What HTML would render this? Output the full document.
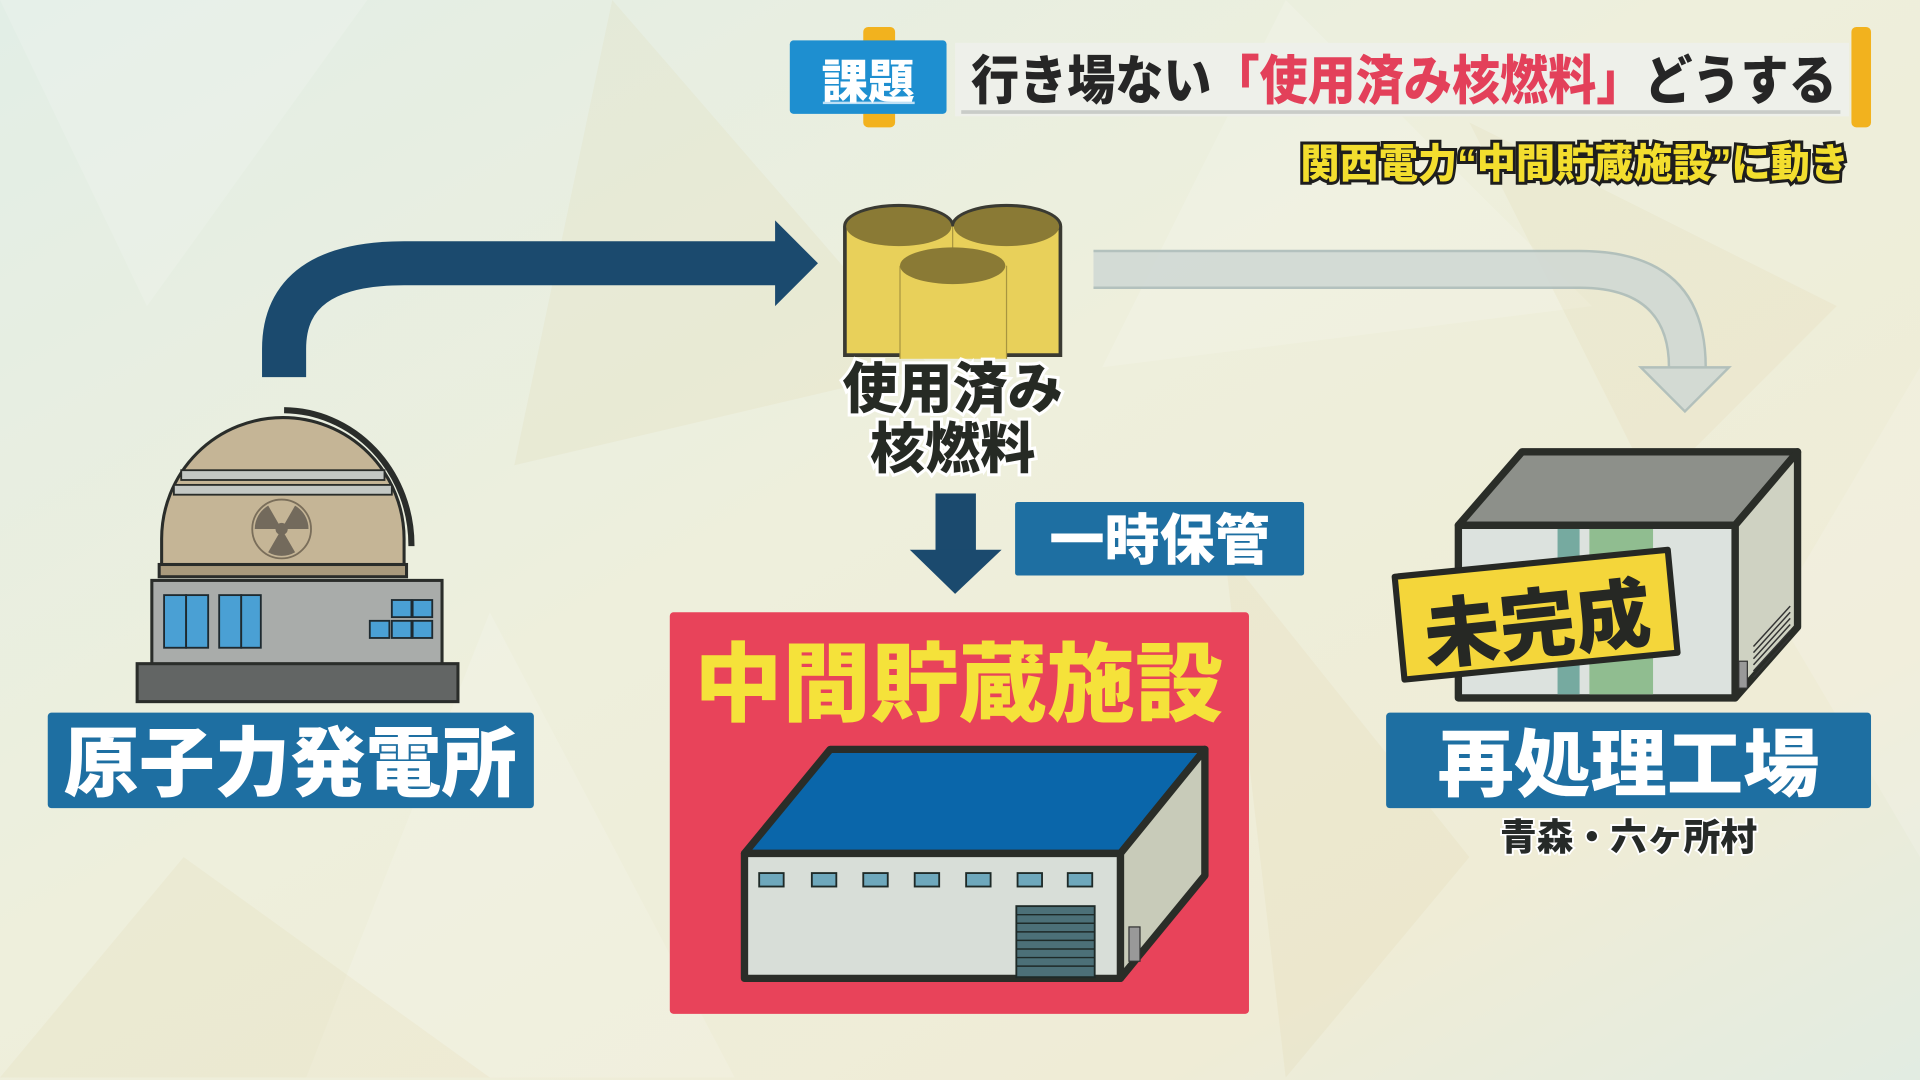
<!DOCTYPE html>
<html><head><meta charset="utf-8"><style>
html,body{margin:0;padding:0;width:1920px;height:1080px;overflow:hidden}
svg{display:block}
text{font-family:"Liberation Sans","Noto Sans CJK JP",sans-serif;font-weight:900}
</style></head><body>
<svg width="1920" height="1080" viewBox="0 0 1568 882" xmlns="http://www.w3.org/2000/svg">
<defs>
<linearGradient id="bg" x1="0" y1="0" x2="1" y2="1">
<stop offset="0" stop-color="#e2eee6"/><stop offset="0.45" stop-color="#eeefdc"/><stop offset="0.8" stop-color="#efecd6"/><stop offset="1" stop-color="#e2ece2"/>
</linearGradient>
</defs>
<rect width="1568" height="882" fill="url(#bg)"/>
<g fill="#ffffff" opacity="0.15">
<polygon points="0,0 300,0 120,250"/><polygon points="400,500 600,880 250,880"/><polygon points="1050,0 1300,250 900,300"/><polygon points="1450,500 1568,700 1568,300"/>
</g>
<g fill="#d9cf9e" opacity="0.14">
<polygon points="500,0 760,300 420,380"/><polygon points="1000,450 1200,700 1050,880"/><polygon points="150,700 400,880 0,880"/><polygon points="1200,100 1500,250 1350,400"/>
</g>

<!-- header -->
<rect x="705" y="22" width="26" height="82" rx="4" fill="#f2b21e"/>
<rect x="1512" y="22" width="16" height="82" rx="4" fill="#f2b21e"/>
<rect x="780" y="35" width="730" height="60" fill="#eef0ea"/>
<rect x="785" y="90" width="718" height="3" fill="#c9ccc8"/>
<rect x="645" y="33" width="128" height="60" rx="3" fill="#1e8fd0"/>
<rect x="672" y="83" width="75" height="2" fill="#bfe0f5"/>
<text x="709" y="80" font-size="38" fill="#ffffff" text-anchor="middle">課題</text>
<text x="793" y="81" font-size="43" fill="#262626" textLength="707" lengthAdjust="spacingAndGlyphs">行き場ない<tspan fill="#e3405a">「使用済み核燃料」</tspan>どうする</text>
<text x="1510" y="145" font-size="33" fill="#f3de2e" stroke="#1e1e1e" stroke-width="5" paint-order="stroke" text-anchor="end" textLength="448" lengthAdjust="spacingAndGlyphs">関西電力“中間貯蔵施設”に動き</text>

<!-- dark curved arrow -->
<path d="M232,308 L232,285 Q232,215 330,215 L640,215" fill="none" stroke="#1b4a6e" stroke-width="36"/>
<polygon points="633,180 668,215 633,250" fill="#1b4a6e"/>

<!-- light arrow -->
<g opacity="0.85">
<path d="M893,220 L1290,220 Q1378,220 1378,300" fill="none" stroke="#cfd8d4" stroke-width="30"/>
<path d="M893,205 L1290,205 Q1393,205 1393,300 M893,235 L1290,235 Q1363,235 1363,300" fill="none" stroke="#a9b9b8" stroke-width="2"/>
<polygon points="1340,300 1412,300 1376,336" fill="#cfd8d4" stroke="#a9b9b8" stroke-width="2"/>
</g>

<!-- canisters -->
<g stroke="#3a3a32" stroke-width="3">
<path d="M690,185 L690,290 L866,290 L866,185 A44,17 0 0 0 778,185 A44,17 0 0 0 690,185 Z" fill="#e8d05a"/>
</g>
<ellipse cx="734" cy="185" rx="43" ry="16" fill="#8a7a35"/>
<ellipse cx="822" cy="185" rx="43" ry="16" fill="#8a7a35"/>
<line x1="778" y1="185" x2="778" y2="210" stroke="#a89540" stroke-width="1"/>
<rect x="735" y="217" width="87" height="76" fill="#e8d05a"/>
<line x1="735" y1="217" x2="735" y2="293" stroke="#a89540" stroke-width="1"/>
<line x1="822" y1="217" x2="822" y2="293" stroke="#a89540" stroke-width="1"/>
<ellipse cx="778" cy="217" rx="43" ry="15" fill="#8a7a35"/>
<text x="778" y="333" font-size="45" fill="#262a24" stroke="#ffffff" stroke-width="5" paint-order="stroke" text-anchor="middle">使用済み</text>
<text x="778" y="382" font-size="45" fill="#262a24" stroke="#ffffff" stroke-width="5" paint-order="stroke" text-anchor="middle">核燃料</text>

<!-- down arrow -->
<rect x="764" y="403" width="33" height="48" fill="#1b4a6e"/>
<polygon points="743,449 818,449 780,485" fill="#1b4a6e"/>
<rect x="829" y="410" width="236" height="60" rx="2" fill="#1e6fa2"/>
<text x="947" y="457" font-size="45" fill="#ffffff" text-anchor="middle">一時保管</text>

<!-- red box -->
<rect x="547" y="500" width="473" height="328" rx="3" fill="#e8435a"/>
<text x="783" y="583" font-size="70" fill="#f5e23a" text-anchor="middle" textLength="432" lengthAdjust="spacingAndGlyphs">中間貯蔵施設</text>
<g stroke="#2a2d28" stroke-linejoin="round">
<polygon points="608,697 678,612 984,612 915,697" fill="#0a66aa" stroke-width="6"/>
<polygon points="915,697 984,612 984,715 915,799" fill="#c8cbb9" stroke-width="6"/>
<rect x="608" y="697" width="307" height="102" fill="#d8ded8" stroke-width="6"/>
</g>
<g fill="#6ea8bc" stroke="#1e2a28" stroke-width="1.5">
<rect x="620" y="713" width="20" height="11"/><rect x="663" y="713" width="20" height="11"/><rect x="705" y="713" width="20" height="11"/><rect x="747" y="713" width="20" height="11"/><rect x="789" y="713" width="20" height="11"/><rect x="831" y="713" width="20" height="11"/><rect x="872" y="713" width="20" height="11"/>
</g>
<rect x="830" y="740" width="64" height="58" fill="#4c7078" stroke="#1e2a28" stroke-width="1.5"/>
<g stroke="#1e2a28" stroke-width="1.2">
<line x1="830" y1="747" x2="894" y2="747"/><line x1="830" y1="754" x2="894" y2="754"/><line x1="830" y1="761" x2="894" y2="761"/><line x1="830" y1="768" x2="894" y2="768"/><line x1="830" y1="775" x2="894" y2="775"/><line x1="830" y1="782" x2="894" y2="782"/><line x1="830" y1="789" x2="894" y2="789"/>
</g>
<rect x="922" y="757" width="9" height="28" fill="#999" stroke="#333" stroke-width="1"/>

<!-- nuclear plant -->
<g stroke="#2a2d2a" stroke-width="2.5">
<path d="M232,335 A105,110 0 0 1 336,445 L336,446" fill="none" stroke-width="5"/>
<path d="M132,462 L132,440 A98,98 0 0 1 330,440 L330,462 Z" fill="#c5b596"/>
<rect x="130" y="461" width="202" height="10" fill="#a99a7c"/>
<rect x="124" y="474" width="237" height="70" fill="#a9acaa"/>
<rect x="112" y="542" width="262" height="31" fill="#626564"/>
</g>
<rect x="148" y="384" width="166" height="8" fill="#c4c8c4" stroke="#2a2d2a" stroke-width="1.5"/>
<rect x="142" y="396" width="178" height="8" fill="#c4c8c4" stroke="#2a2d2a" stroke-width="1.5"/>
<circle cx="230" cy="432" r="24" fill="none" stroke="#7a6e5a" stroke-width="1.5"/>
<g fill="#736a5c">
<circle cx="230" cy="432" r="5"/>
<path d="M230,432 L219,413 A22,22 0 0 1 241,413 Z" transform="rotate(-60 230 432)"/>
<path d="M230,432 L219,413 A22,22 0 0 1 241,413 Z" transform="rotate(60 230 432)"/>
<path d="M230,432 L219,413 A22,22 0 0 1 241,413 Z" transform="rotate(180 230 432)"/>
</g>
<g fill="#4aa0d4" stroke="#1e2a30" stroke-width="1.5">
<rect x="134" y="486" width="18" height="43"/><rect x="152" y="486" width="18" height="43"/><rect x="179" y="486" width="18" height="43"/><rect x="197" y="486" width="16" height="43"/>
<rect x="320" y="490" width="16" height="14"/><rect x="337" y="490" width="16" height="14"/><rect x="302" y="507" width="16" height="14"/><rect x="320" y="507" width="16" height="14"/><rect x="337" y="507" width="16" height="14"/>
</g>
<rect x="39" y="582" width="397" height="78" rx="3" fill="#1e6fa2"/>
<text x="237" y="645" font-size="62" fill="#ffffff" text-anchor="middle" textLength="370" lengthAdjust="spacingAndGlyphs">原子力発電所</text>

<!-- reprocessing -->
<g stroke="#2a2d28" stroke-linejoin="round">
<polygon points="1191,429 1243,369 1468,369 1417,429" fill="#8d908a" stroke-width="6"/>
<polygon points="1417,429 1468,369 1468,512 1417,570" fill="#cfd2c2" stroke-width="6"/>
<rect x="1191" y="429" width="226" height="141" fill="#dce2de" stroke-width="6"/>
</g>
<rect x="1272" y="432" width="18" height="135" fill="#76aaa0"/>
<rect x="1298" y="432" width="52" height="135" fill="#90bd90"/>
<g stroke="#333" stroke-width="1.2">
<line x1="1432" y1="528" x2="1462" y2="495"/><line x1="1432" y1="533" x2="1462" y2="500"/><line x1="1432" y1="538" x2="1462" y2="505"/><line x1="1432" y1="543" x2="1462" y2="510"/><line x1="1432" y1="548" x2="1462" y2="515"/><line x1="1432" y1="553" x2="1462" y2="520"/>
</g>
<rect x="1420" y="540" width="7" height="22" fill="#999" stroke="#333" stroke-width="1"/>
<polygon points="1139,471 1362,449 1370,533 1147,555" fill="#f4d63a" stroke="#262824" stroke-width="5" stroke-linejoin="round"/>
<text x="1255" y="532" font-size="62" fill="#262824" text-anchor="middle" transform="rotate(-6 1255 505)">未完成</text>
<rect x="1132" y="582" width="396" height="78" rx="3" fill="#1e6fa2"/>
<text x="1330" y="645" font-size="60" fill="#ffffff" text-anchor="middle" textLength="312" lengthAdjust="spacingAndGlyphs">再処理工場</text>
<text x="1330" y="694" font-size="30" fill="#262a28" text-anchor="middle" stroke="#ffffff" stroke-width="3" paint-order="stroke">青森・六ヶ所村</text>
</svg>
</body></html>
